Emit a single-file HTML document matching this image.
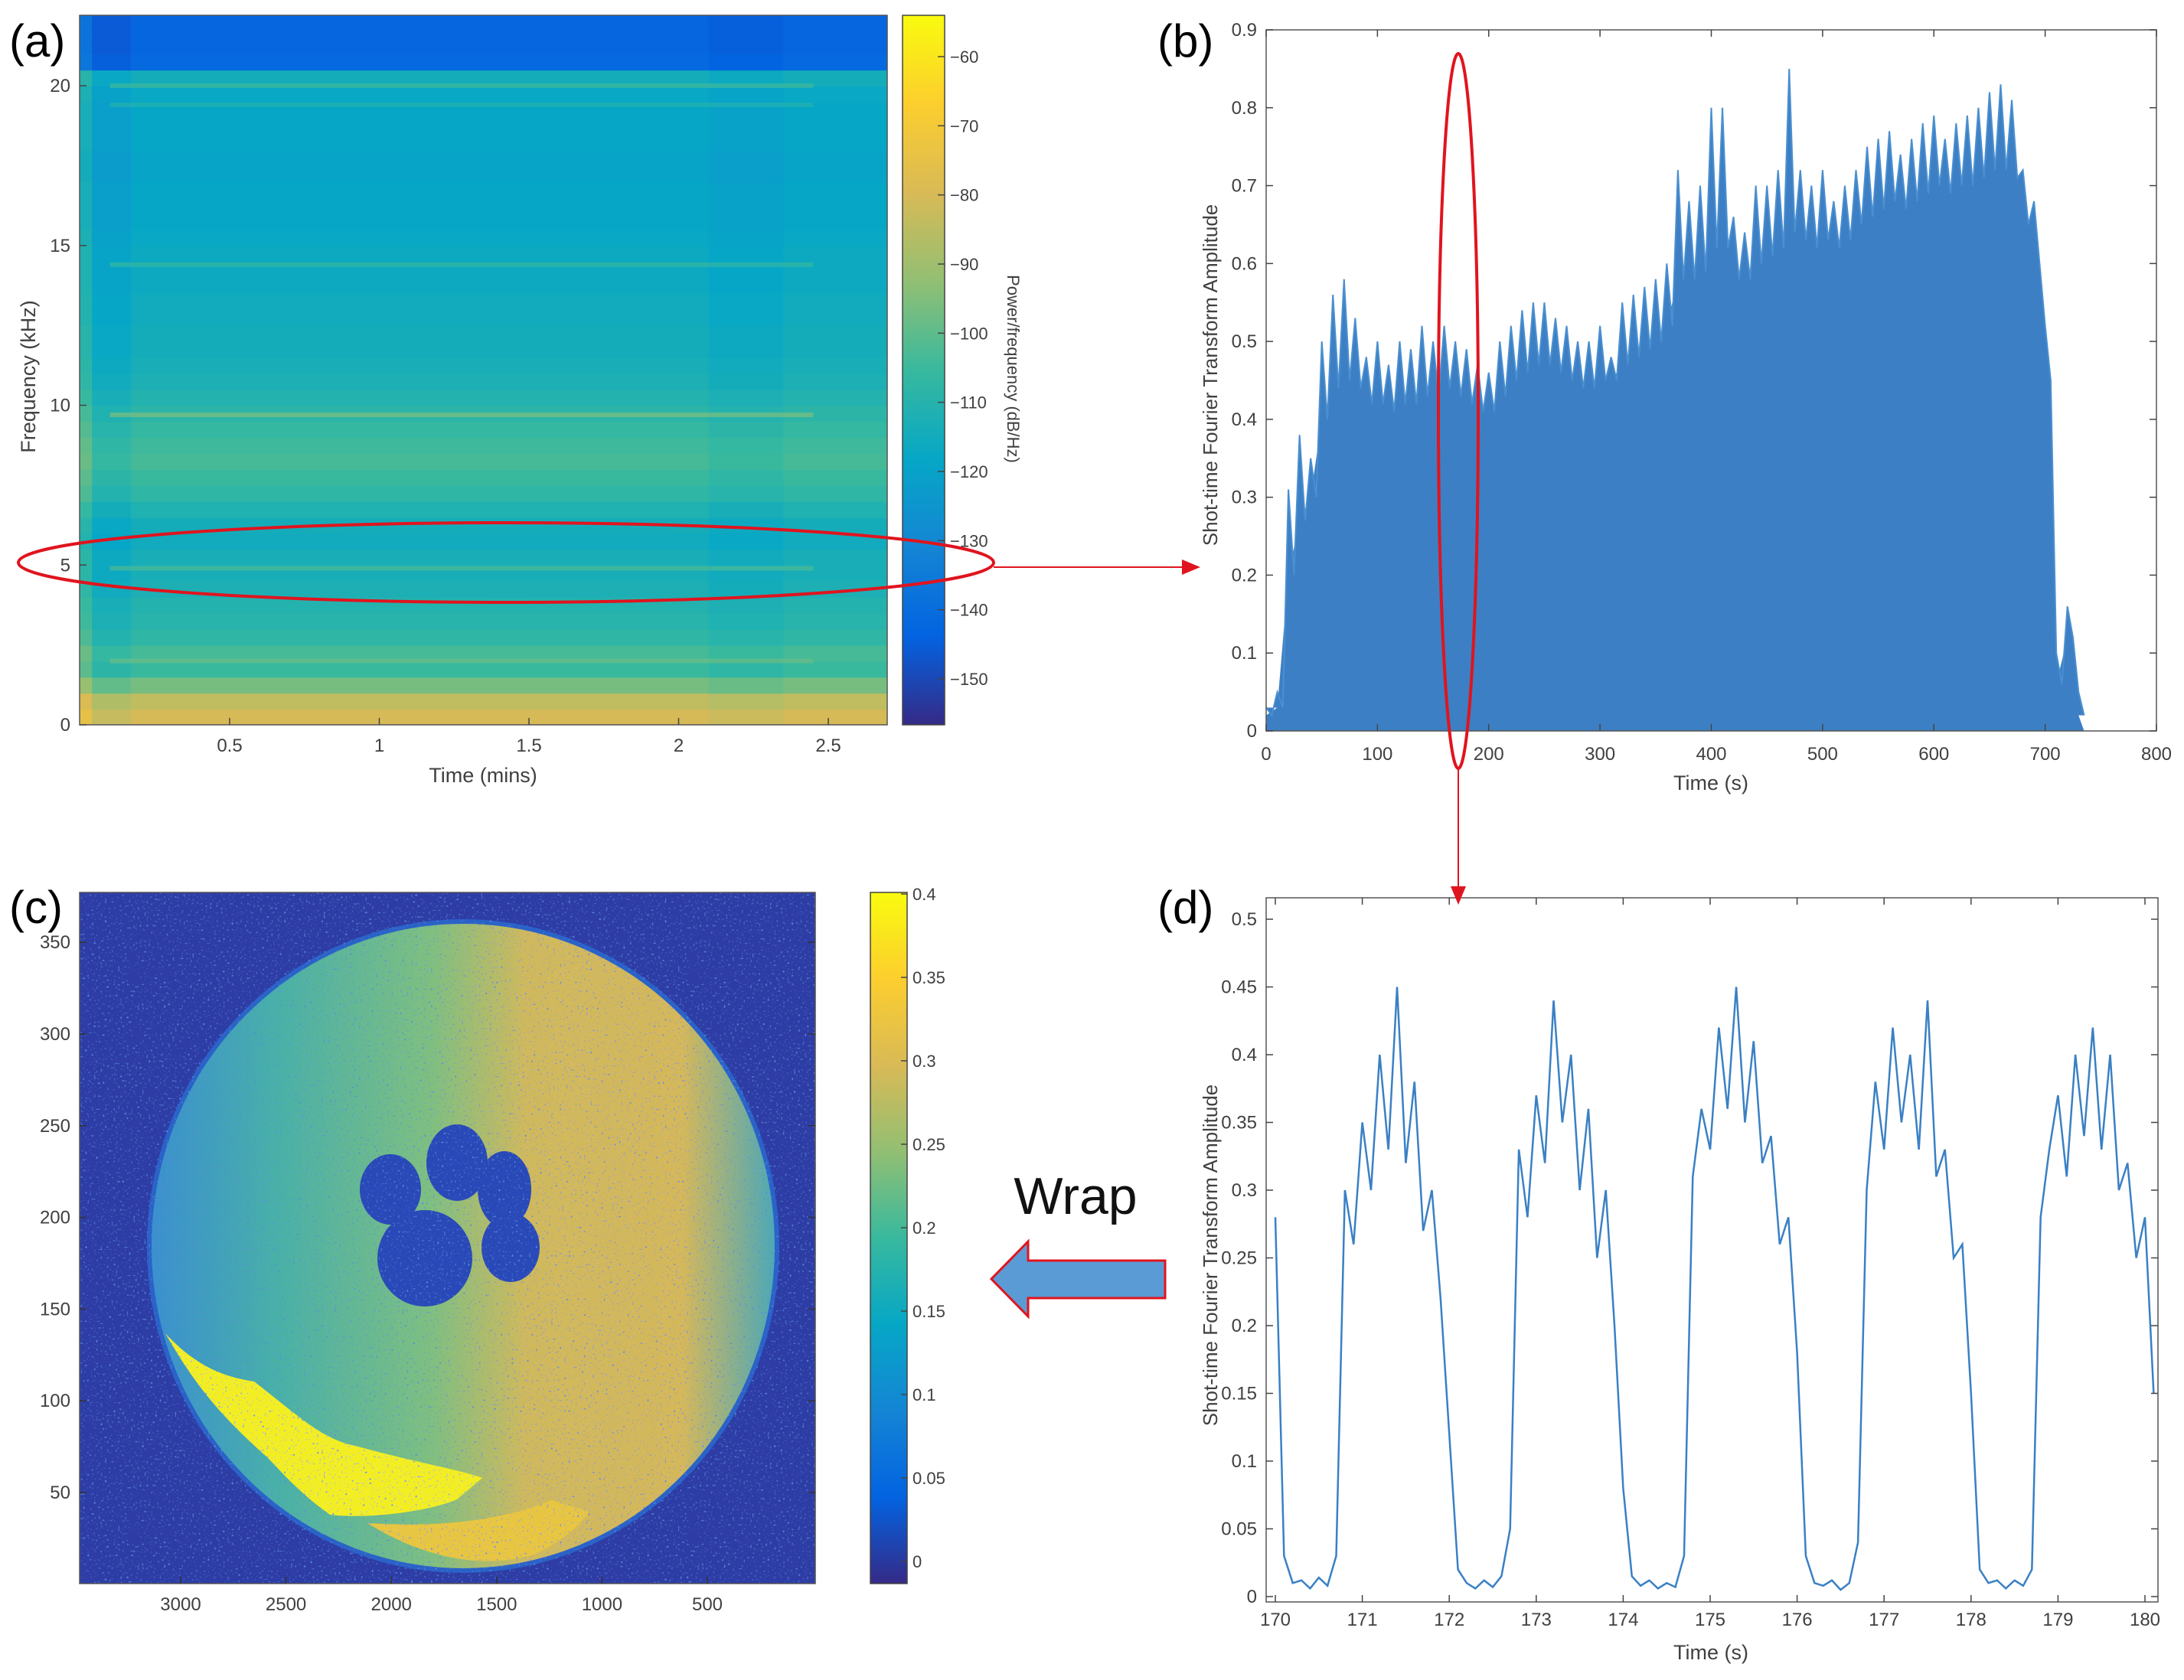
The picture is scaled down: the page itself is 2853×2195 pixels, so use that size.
<!DOCTYPE html>
<html><head><meta charset="utf-8"><style>
html,body{margin:0;padding:0;background:#fff;}
svg{display:block;font-family:"Liberation Sans",sans-serif;}
</style></head><body>
<svg id="fig" xmlns="http://www.w3.org/2000/svg" width="2853" height="2195" viewBox="0 0 2853 2195">
<defs>
<linearGradient id="parulaV" x1="0" y1="1" x2="0" y2="0">
<stop offset="0" stop-color="#352A87"/><stop offset="0.125" stop-color="#0363E1"/><stop offset="0.25" stop-color="#1485D4"/><stop offset="0.375" stop-color="#06A7C6"/><stop offset="0.5" stop-color="#38B99E"/><stop offset="0.625" stop-color="#92BF73"/><stop offset="0.75" stop-color="#D9BA56"/><stop offset="0.875" stop-color="#FCCE2E"/><stop offset="1" stop-color="#F9FB0E"/>
</linearGradient>
<linearGradient id="discGrad" x1="0" y1="0" x2="1" y2="0">
<stop offset="0" stop-color="#3a8fd0"/><stop offset="0.2" stop-color="#48b0a8"/><stop offset="0.45" stop-color="#7fbf80"/><stop offset="0.6" stop-color="#d0b95c"/><stop offset="0.85" stop-color="#d4b85a"/><stop offset="1" stop-color="#4aa8b8"/>
</linearGradient>
<filter id="speck" x="0" y="0" width="100%" height="100%">
<feTurbulence type="fractalNoise" baseFrequency="0.35" numOctaves="1" seed="3" result="n"/>
<feColorMatrix in="n" type="matrix" values="0 0 0 0 0.1  0 0 0 0 0.25  0 0 0 0 0.7  0 0 0 6 -3.8" result="m"/>
<feComposite in="m" in2="SourceGraphic" operator="in" result="c"/>
<feMerge><feMergeNode in="SourceGraphic"/><feMergeNode in="c"/></feMerge>
</filter>
<clipPath id="clipA"><rect x="104" y="20" width="1055" height="927"/></clipPath>
<clipPath id="clipD"><rect x="1654" y="1173" width="1165" height="920"/></clipPath>
<clipPath id="clipC"><rect x="104" y="1166" width="961" height="903"/></clipPath>
</defs>
<g id="layer"></g>
</svg>
<script>
// ---------- DATA ----------
const specFreq = [0,0.5,1,1.5,2,2.5,3,3.5,4,4.5,5,5.5,6,6.5,7,7.5,8,8.5,9,9.5,10,10.5,11,11.5,12,12.5,13,13.5,14,14.5,15,15.5,16,16.5,17,17.5,18,18.5,19,19.5,20,20.5,21,21.5,22];
const specDb   = [-80,-84,-96,-105,-103,-107,-109,-110,-112,-113,-113,-115,-114,-111,-107,-105,-103,-104,-106,-108,-110,-112,-113,-114,-114,-115,-115,-116,-116,-116,-117,-118,-118,-118,-119,-119,-118,-118,-118,-117,-114,-141,-142,-142,-142];
const specLineFreq = [2.0, 4.9, 9.7, 14.4, 19.4, 20.0];
const specLineDb   = [-98, -102, -95, -106, -110, -104];
const specSegStart = [0, 0.04, 0.17, 2.1, 2.35];
const specSegEnd   = [0.04, 0.17, 2.1, 2.35, 2.7];
const specSegOffset= [5, -3, 0, -2, 0];
const aFreqTicks = [0,5,10,15,20];
const aTimeTicks = [0.5,1,1.5,2,2.5];
const aCbTicks = [-60,-70,-80,-90,-100,-110,-120,-130,-140,-150];
const bTime  = [0,10,20,30,40,50,60,70,80,90,100,110,120,130,140,150,160,170,180,190,200,210,220,230,240,250,260,270,280,290,300,310,320,330,340,350,360,370,380,390,400,410,420,430,440,450,460,470,480,490,500,510,520,530,540,550,560,570,580,590,600,610,620,630,640,650,660,670,680,690,700,710,720,730];
const bPeak  = [0.03,0.05,0.31,0.38,0.35,0.5,0.56,0.58,0.53,0.48,0.5,0.47,0.5,0.49,0.52,0.5,0.52,0.5,0.49,0.47,0.46,0.5,0.52,0.54,0.55,0.55,0.53,0.52,0.5,0.5,0.52,0.48,0.55,0.56,0.57,0.58,0.6,0.72,0.68,0.7,0.8,0.8,0.66,0.64,0.7,0.7,0.72,0.85,0.72,0.7,0.72,0.68,0.7,0.72,0.75,0.76,0.77,0.74,0.76,0.78,0.79,0.76,0.78,0.79,0.8,0.82,0.83,0.81,0.72,0.68,0.52,0.1,0.16,0.05];
const bDense = [0.02,0.03,0.2,0.27,0.3,0.4,0.44,0.45,0.44,0.42,0.42,0.41,0.42,0.42,0.43,0.43,0.44,0.43,0.42,0.41,0.41,0.43,0.45,0.46,0.47,0.47,0.46,0.45,0.44,0.44,0.45,0.45,0.47,0.48,0.49,0.5,0.52,0.58,0.58,0.59,0.62,0.62,0.58,0.58,0.6,0.61,0.62,0.64,0.63,0.62,0.63,0.62,0.63,0.65,0.66,0.67,0.68,0.67,0.68,0.69,0.7,0.69,0.7,0.7,0.71,0.72,0.72,0.71,0.65,0.6,0.45,0.06,0.12,0.02];
const bXTicks = [0,100,200,300,400,500,600,700,800];
const bYTicks = [0,0.1,0.2,0.3,0.4,0.5,0.6,0.7,0.8,0.9];
const dStart = 170.0, dStep = 0.1;
const dVals = [0.28,0.03,0.01,0.012,0.006,0.014,0.008,0.03,0.30,0.26,0.35,0.30,0.40,0.33,0.45,0.32,0.38,0.27,0.30,0.22,0.12,
0.02,0.01,0.006,0.012,0.007,0.015,0.05,0.33,0.28,0.37,0.32,0.44,0.35,0.40,0.30,0.36,0.25,0.30,0.20,0.08,
0.015,0.008,0.012,0.006,0.01,0.007,0.03,0.31,0.36,0.33,0.42,0.36,0.45,0.35,0.41,0.32,0.34,0.26,0.28,0.18,
0.03,0.01,0.008,0.012,0.005,0.01,0.04,0.30,0.38,0.33,0.42,0.35,0.40,0.33,0.44,0.31,0.33,0.25,0.26,0.15,
0.02,0.01,0.012,0.006,0.012,0.008,0.02,0.28,0.33,0.37,0.31,0.40,0.34,0.42,0.33,0.40,0.30,0.32,0.25,0.28,0.15];
const dXTicks = [170,171,172,173,174,175,176,177,178,179,180];
const dYTicks = [0,0.05,0.1,0.15,0.2,0.25,0.3,0.35,0.4,0.45,0.5];
const cYTicks = [50,100,150,200,250,300,350];
const cXTicks = [3000,2500,2000,1500,1000,500];
const cCbTicks = [0,0.05,0.1,0.15,0.2,0.25,0.3,0.35,0.4];

// ---------- HELPERS ----------
const NS='http://www.w3.org/2000/svg';
const L=document.getElementById('layer');
function mk(parent,tag,attrs){const e=document.createElementNS(NS,tag);for(const k in attrs)e.setAttribute(k,attrs[k]);parent.appendChild(e);return e;}
const stops=[[0,53,42,135],[0.125,3,99,225],[0.25,20,133,212],[0.375,6,167,198],[0.5,56,185,158],[0.625,146,191,115],[0.75,217,186,86],[0.875,252,206,46],[1,249,251,14]];
function parula(v){v=Math.max(0,Math.min(1,v));for(let i=1;i<stops.length;i++){if(v<=stops[i][0]){const a=stops[i-1],b=stops[i],t=(v-a[0])/(b[0]-a[0]);return 'rgb('+[1,2,3].map(j=>Math.round(a[j]+(b[j]-a[j])*t)).join(',')+')';}}return 'rgb(249,251,14)';}
function txt(parent,x,y,s,size,anchor,extra){const t=mk(parent,'text',Object.assign({x:x,y:y,'font-size':size,'text-anchor':anchor||'middle',fill:'#404040'},extra||{}));t.textContent=s;return t;}
function fmt(v){return String(+v.toFixed(2));}

// ---------- PANEL A ----------
const gA=mk(L,'g',{});


const xA=t=>104.5+t*391, yA=f=>947-f*41.75, cA=db=>parula((db+156)/102);
const gAc=mk(gA,'g',{'clip-path':'url(#clipA)'});
for(let s=0;s<specSegStart.length;s++){
  for(let i=0;i<specFreq.length;i++){
    const r=mk(gAc,'rect',{x:xA(specSegStart[s]),y:yA(specFreq[i]+0.5),width:xA(specSegEnd[s])-xA(specSegStart[s])+1,height:yA(specFreq[i])-yA(specFreq[i]+0.5)+1,fill:cA(specDb[i]+specSegOffset[s])});
    
    
  }
}
for(let i=0;i<specLineFreq.length;i++){
  const r=mk(gAc,'rect',{x:xA(0.1),y:yA(specLineFreq[i])-3,width:xA(2.45)-xA(0.1),height:6,fill:cA(specLineDb[i]),opacity:0.7});
  
  
}
mk(gA,'rect',{x:104,y:20,width:1055,height:927,fill:'none',stroke:'#555','stroke-width':1.5});
aFreqTicks.forEach(f=>{mk(gA,'line',{x1:104,x2:113,y1:yA(f),y2:yA(f),stroke:'#444','stroke-width':1.5});const t=txt(gA,92,yA(f)+8,String(f),24,'end');});
aTimeTicks.forEach(v=>{mk(gA,'line',{x1:xA(v),x2:xA(v),y1:947,y2:938,stroke:'#444','stroke-width':1.5});const t=txt(gA,xA(v),982,String(v),24);});
let t;
t=txt(gA,631,1022,'Time (mins)',27);
t=txt(gA,0,0,'Frequency (kHz)',27,'middle',{transform:'translate(46,492) rotate(-90)'});
let cb=mk(gA,'rect',{x:1179,y:20,width:55,height:927,fill:'url(#parulaV)',stroke:'#444','stroke-width':1.5});


const yCbA=v=>74+(-60-v)*9.033;
aCbTicks.forEach(v=>{mk(gA,'line',{x1:1225,x2:1234,y1:yCbA(v),y2:yCbA(v),stroke:'#444','stroke-width':1.5});const tt=txt(gA,1241,yCbA(v)+8,'\u2212'+Math.abs(v),22,'start');});
t=txt(gA,0,0,'Power/frequency (dB/Hz)',22,'middle',{transform:'translate(1316,482) rotate(90)'});

// ---------- PANEL B ----------
const gB=mk(L,'g',{});


const xB=v=>1654+v*1.45375, yB=v=>955-v*1017.8;
let pts=[xB(bTime[0])+','+yB(0)];
bTime.forEach((tm,i)=>pts.push(xB(tm)+','+yB(bDense[i])));
pts.push(xB(735)+','+yB(0));
let area=mk(gB,'polygon',{points:pts.join(' '),fill:'#3d7fc4'});


let zz=[];
bTime.forEach((tm,i)=>{zz.push(xB(tm)+','+yB(bPeak[i]));zz.push(xB(tm+5)+','+yB(bDense[i]));});
let spk=mk(gB,'polyline',{points:zz.join(' '),fill:'#3d7fc4',stroke:'#4a8fd0','stroke-width':2,'stroke-linejoin':'miter'});


mk(gB,'rect',{x:1654,y:39,width:1163,height:916,fill:'none',stroke:'#555','stroke-width':1.5});
bXTicks.forEach(v=>{mk(gB,'line',{x1:xB(v),x2:xB(v),y1:955,y2:946,stroke:'#444','stroke-width':1.5});mk(gB,'line',{x1:xB(v),x2:xB(v),y1:39,y2:48,stroke:'#444','stroke-width':1.5});const tt=txt(gB,xB(v),993,String(v),24);});
bYTicks.forEach(v=>{mk(gB,'line',{x1:1654,x2:1663,y1:yB(v),y2:yB(v),stroke:'#444','stroke-width':1.5});mk(gB,'line',{x1:2817,x2:2808,y1:yB(v),y2:yB(v),stroke:'#444','stroke-width':1.5});const tt=txt(gB,1642,yB(v)+8,fmt(v),24,'end');});
t=txt(gB,2235,1032,'Time (s)',27);
t=txt(gB,0,0,'Shot-time Fourier Transform Amplitude',26,'middle',{transform:'translate(1590,490) rotate(-90)'});

// ---------- PANEL D ----------
const gD=mk(L,'g',{});


const xD=v=>1666+(v-170)*113.6, yD=v=>2086-v*1770;
let dp=dVals.map((v,i)=>xD(dStart+i*dStep)+','+yD(v));
let dl=mk(gD,'polyline',{points:dp.join(' '),fill:'none',stroke:'#3a80c4','stroke-width':2.5,'clip-path':'url(#clipD)'});


mk(gD,'rect',{x:1654,y:1173,width:1165,height:920,fill:'none',stroke:'#555','stroke-width':1.5});
dXTicks.forEach(v=>{mk(gD,'line',{x1:xD(v),x2:xD(v),y1:2093,y2:2084,stroke:'#444','stroke-width':1.5});mk(gD,'line',{x1:xD(v),x2:xD(v),y1:1173,y2:1182,stroke:'#444','stroke-width':1.5});const tt=txt(gD,xD(v),2124,String(v),24);});
dYTicks.forEach(v=>{mk(gD,'line',{x1:1654,x2:1663,y1:yD(v),y2:yD(v),stroke:'#444','stroke-width':1.5});mk(gD,'line',{x1:2819,x2:2810,y1:yD(v),y2:yD(v),stroke:'#444','stroke-width':1.5});const tt=txt(gD,1642,yD(v)+8,fmt(v),24,'end');});
t=txt(gD,2235,2168,'Time (s)',27);
t=txt(gD,0,0,'Shot-time Fourier Transform Amplitude',26,'middle',{transform:'translate(1590,1640) rotate(-90)'});

// ---------- PANEL C ----------
const gC=mk(L,'g',{});


const gCc=mk(gC,'g',{'clip-path':'url(#clipC)',filter:'url(#speck)'});
mk(gCc,'rect',{x:104,y:1166,width:961,height:903,fill:'#2d3ea6'});
let disc=mk(gCc,'ellipse',{cx:605,cy:1628,rx:410,ry:424,fill:'url(#discGrad)',stroke:'#2a62c8','stroke-width':6});


let cres=mk(gCc,'path',{d:'M216,1742 C260,1790 300,1800 332,1805 C390,1850 420,1880 464,1889 C540,1910 600,1920 630,1931 L597,1959 C560,1975 480,1985 431,1979 C390,1950 370,1925 348,1903 C300,1860 260,1820 216,1742 Z',fill:'#f3ee20'});


mk(gCc,'path',{d:'M480,1990 C560,2040 640,2050 700,2030 C740,2010 760,1990 770,1975 L720,1960 C650,1990 560,1995 480,1990 Z',fill:'#e8c640'});
[[555,1644,62,63],[510,1554,40,46],[597,1519,40,50],[659,1554,35,50],[667,1630,38,45]].forEach(p=>{const e=mk(gCc,'ellipse',{cx:p[0],cy:p[1],rx:p[2],ry:p[3],fill:'#2a48b8'});});
mk(gC,'rect',{x:104,y:1166,width:961,height:903,fill:'none',stroke:'#555','stroke-width':1.5});
const yC=v=>1950-(v-50)*2.396, xC=v=>236+(3000-v)*0.2752;
cYTicks.forEach(v=>{mk(gC,'line',{x1:104,x2:113,y1:yC(v),y2:yC(v),stroke:'#333','stroke-width':1.5});mk(gC,'line',{x1:1065,x2:1056,y1:yC(v),y2:yC(v),stroke:'#333','stroke-width':1.5});const tt=txt(gC,92,yC(v)+8,String(v),24,'end');});
cXTicks.forEach(v=>{mk(gC,'line',{x1:xC(v),x2:xC(v),y1:2069,y2:2060,stroke:'#333','stroke-width':1.5});const tt=txt(gC,xC(v),2104,String(v),24);});
cb=mk(gC,'rect',{x:1137,y:1166,width:48,height:903,fill:'url(#parulaV)',stroke:'#444','stroke-width':1.5});


const yCbC=v=>2040-v*2180;
cCbTicks.forEach(v=>{mk(gC,'line',{x1:1177,x2:1185,y1:yCbC(v),y2:yCbC(v),stroke:'#444','stroke-width':1.5});const tt=txt(gC,1192,yCbC(v)+8,fmt(v),22,'start');});

// ---------- ANNOTATIONS ----------
const gN=mk(L,'g',{});


let e1=mk(gN,'ellipse',{cx:661,cy:735,rx:637,ry:52,fill:'none',stroke:'#e0141e','stroke-width':4});


mk(gN,'line',{x1:1298,x2:1548,y1:741,y2:741,stroke:'#e0141e','stroke-width':2});
mk(gN,'polygon',{points:'1568,741 1544,731 1544,751',fill:'#e0141e'});
let e2=mk(gN,'ellipse',{cx:1905,cy:537,rx:26,ry:467,fill:'none',stroke:'#e0141e','stroke-width':4});


mk(gN,'line',{x1:1905,x2:1905,y1:1004,y2:1160,stroke:'#e0141e','stroke-width':2});
mk(gN,'polygon',{points:'1905,1182 1895,1158 1915,1158',fill:'#e0141e'});
let wa=mk(gN,'polygon',{points:'1295,1671 1343,1622 1343,1647 1522,1647 1522,1696 1343,1696 1343,1720',fill:'#5b9bd5',stroke:'#e0141e','stroke-width':3});


t=txt(gN,1405,1586,'Wrap',68,'middle',{fill:'#111'});
[['(a)',12,74],['(b)',1512,74],['(c)',12,1206],['(d)',1512,1206]].forEach(p=>{const tt=txt(gN,p[1],p[2],p[0],60,'start',{fill:'#000'});});
</script>
</body></html>
